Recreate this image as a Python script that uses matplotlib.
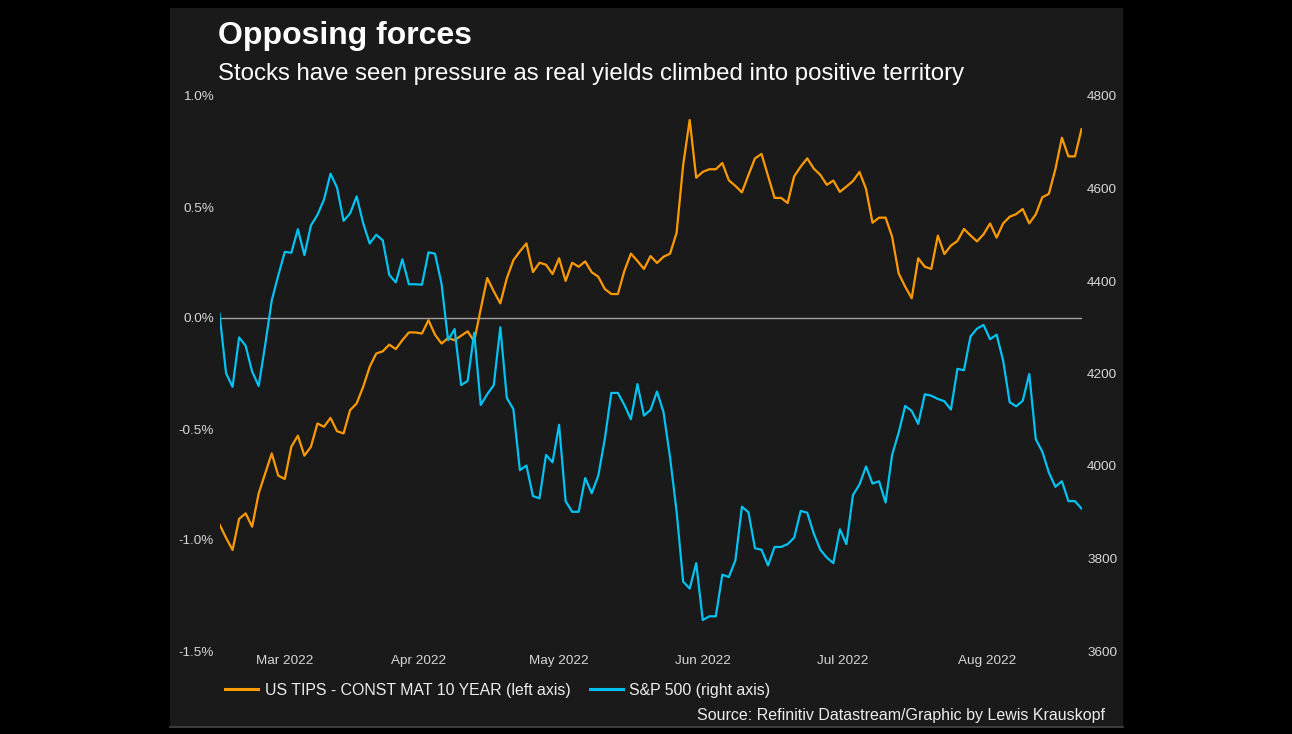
import matplotlib
matplotlib.use('Agg')
import matplotlib.pyplot as plt
import numpy as np
import pandas as pd
from matplotlib.patches import Rectangle
from matplotlib.lines import Line2D

# ---------------- data ----------------
# Datastream-style weekday series (holidays carry the previous value)
start_date = '2022-03-04'
end_date = '2022-09-06'
dates = pd.bdate_range(start_date, end_date)

# US TIPS constant maturity 10-year real yield (%)
tips_10y = [
    -0.93, -0.99, -1.045, -0.905, -0.88, -0.94, -0.79, -0.70, -0.61, -0.71,
    -0.725, -0.58, -0.53, -0.62, -0.58, -0.475, -0.49, -0.45, -0.51, -0.52,
    -0.415, -0.385, -0.31, -0.22, -0.16, -0.15, -0.12, -0.14, -0.10, -0.065,
    -0.065, -0.07, -0.01, -0.075, -0.115, -0.09, -0.10, -0.08, -0.06, -0.105,
    0.04, 0.18, 0.12, 0.066, 0.179, 0.26, 0.30, 0.336, 0.207, 0.249,
    0.240, 0.198, 0.269, 0.167, 0.249, 0.231, 0.255, 0.206, 0.186, 0.131,
    0.108, 0.108, 0.212, 0.290, 0.257, 0.221, 0.279, 0.248, 0.276, 0.290,
    0.384, 0.689, 0.892, 0.632, 0.658, 0.670, 0.670, 0.698, 0.620, 0.595,
    0.566, 0.644, 0.719, 0.739, 0.640, 0.541, 0.541, 0.518, 0.638, 0.682,
    0.719, 0.673, 0.645, 0.600, 0.619, 0.568, 0.592, 0.617, 0.658, 0.582,
    0.429, 0.452, 0.452, 0.366, 0.201, 0.141, 0.089, 0.269, 0.231, 0.221,
    0.371, 0.288, 0.326, 0.347, 0.401, 0.372, 0.345, 0.377, 0.426, 0.362,
    0.426, 0.456, 0.468, 0.491, 0.426, 0.467, 0.544, 0.559, 0.670, 0.812,
    0.728, 0.728, 0.850,
]

# S&P 500 index level
sp500 = [
    4329, 4201, 4171, 4278, 4260, 4204, 4173, 4262, 4358, 4412,
    4463, 4461, 4512, 4456, 4520, 4543, 4576, 4632, 4602, 4530,
    4546, 4583, 4525, 4481, 4500, 4488, 4413, 4397, 4447, 4393,
    4393, 4392, 4462, 4459, 4394, 4272, 4296, 4175, 4184, 4288,
    4132, 4155, 4175, 4300, 4147, 4123, 3991, 4001, 3935, 3930,
    4024, 4008, 4089, 3924, 3901, 3901, 3974, 3941, 3979, 4058,
    4158, 4158, 4132, 4101, 4177, 4109, 4121, 4161, 4116, 4018,
    3901, 3750, 3735, 3790, 3667, 3675, 3675, 3765, 3760, 3796,
    3912, 3900, 3822, 3819, 3785, 3825, 3825, 3831, 3845, 3903,
    3899, 3854, 3819, 3802, 3790, 3863, 3831, 3937, 3960, 3999,
    3962, 3967, 3921, 4024, 4072, 4130, 4119, 4091, 4155, 4152,
    4145, 4140, 4122, 4210, 4207, 4280, 4297, 4305, 4274, 4284,
    4228, 4138, 4129, 4141, 4199, 4058, 4031, 3986, 3955, 3967,
    3924, 3924, 3908,
]

left_ticks = [1.0, 0.5, 0.0, -0.5, -1.0, -1.5]
left_tick_labels = ['1.0%', '0.5%', '0.0%', '-0.5%', '-1.0%', '-1.5%']
right_ticks = [4800, 4600, 4400, 4200, 4000, 3800, 3600]
right_tick_labels = ['4800', '4600', '4400', '4200', '4000', '3800', '3600']

title = 'Opposing forces'
subtitle = 'Stocks have seen pressure as real yields climbed into positive territory'
legend_labels = ['US TIPS - CONST MAT 10 YEAR (left axis)', 'S&P 500 (right axis)']
source = 'Source: Refinitiv Datastream/Graphic by Lewis Krauskopf'

# ---------------- style ----------------
ORANGE = '#ff9a00'
BLUE = '#00c2f2'
PANEL = '#1a1a1a'
TICK_COLOR = '#d6d6d6'
FONT = ['Liberation Sans', 'DejaVu Sans']
plt.rcParams['font.family'] = FONT

W, H = 1292, 734
fig = plt.figure(figsize=(W / 100, H / 100), dpi=100, facecolor='black')

# dark panel
fig.patches.append(Rectangle((170 / W, 1 - 726 / H), (1123 - 170) / W, (726 - 8) / H,
                             transform=fig.transFigure, facecolor=PANEL,
                             edgecolor='none', zorder=-10))
fig.lines.append(Line2D([170 / W, 1123 / W], [1 - 726.5 / H, 1 - 726.5 / H],
                        transform=fig.transFigure, color='#4a4a4a', lw=1.2,
                        zorder=-9))

ax = fig.add_axes([219.5 / W, 1 - 651 / H, 862 / W, 555 / H])
ax.set_facecolor('none')
x = np.arange(len(dates))

ax.axhline(0, color='#a0a0a0', lw=1.0, zorder=1)
l1, = ax.plot(x, tips_10y, color=ORANGE, lw=1.6, zorder=2)
ax.set_xlim(x[0], x[-1])
ax.set_ylim(-1.5, 1.0)
ax.set_yticks(left_ticks)
ax.set_yticklabels(left_tick_labels)

ax2 = ax.twinx()
ax2.set_facecolor('none')
l2, = ax2.plot(x, sp500, color=BLUE, lw=1.6, zorder=2)
ax2.set_ylim(3600, 4800)
ax2.set_yticks(right_ticks)
ax2.set_yticklabels(right_tick_labels)

# month labels centred on each month's span
months = pd.Series(x, index=dates).groupby(dates.to_period('M'))
mpos, mlab = [], []
for per, idx in months:
    if per.month in (3, 4, 5, 6, 7, 8):
        mpos.append((idx.min() + idx.max()) / 2 + 0.5)
        mlab.append(per.strftime('%b %Y'))
ax.set_xticks(mpos)
ax.set_xticklabels(mlab)

for a in (ax, ax2):
    for s in a.spines.values():
        s.set_visible(False)
    a.tick_params(length=0, colors=TICK_COLOR, labelsize=9.7)
ax.tick_params(axis='y', pad=4)
ax2.tick_params(axis='y', pad=4)
ax.tick_params(axis='x', pad=3)

# titles
fig.text(218 / W, 1 - 44 / H, title, color='white', fontsize=23, fontweight='bold',
         ha='left', va='baseline')
fig.text(218 / W, 1 - 80 / H, subtitle, color='white', fontsize=17.3,
         ha='left', va='baseline')

leg = fig.legend([l1, l2], legend_labels, loc='center left',
                 bbox_to_anchor=(225 / W, 1 - 690 / H), ncol=2, frameon=False,
                 fontsize=11.45, handlelength=2.1, handletextpad=0.4,
                 columnspacing=1.2, borderpad=0, borderaxespad=0)
for t in leg.get_texts():
    t.set_color('#ececec')
for h in leg.get_lines():
    h.set_linewidth(2.2)

fig.text(1105 / W, 1 - 720 / H, source, color='#ececec', fontsize=11.5,
         ha='right', va='baseline')

fig.savefig('out.png', dpi=100, facecolor='black')
